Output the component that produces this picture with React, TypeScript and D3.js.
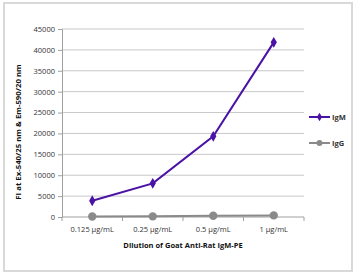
import React, { useEffect, useRef } from "react";
import * as d3 from "d3";

// dilution categories on the x axis
const dilutions = ["0.125 µg/mL", "0.25 µg/mL", "0.5 µg/mL", "1 µg/mL"];
// fluorescence intensity
const igmValues = [3900, 8050, 19300, 41800];
const iggValues = [120, 150, 300, 380];
const yTicks = [0, 5000, 10000, 15000, 20000, 25000, 30000, 35000, 40000, 45000];

const W = 358;
const H = 275;

const App = () => {
  const ref = useRef<SVGSVGElement>(null);

  useEffect(() => {
    const svg = d3.select(ref.current);
    svg.selectAll("*").remove();

    const font = "'Open Sans', 'Noto Sans', sans-serif";
    const left = 62, right = 304, top = 29, bottom = 217;

    // outer frame
    svg.append("rect")
      .attr("x", 4).attr("y", 3)
      .attr("width", 348).attr("height", 268)
      .attr("fill", "white")
      .attr("stroke", "#d9d9d9")
      .attr("stroke-width", 2);

    const x = d3.scaleBand().domain(dilutions).range([left, right]);
    const y = d3.scaleLinear().domain([0, 45000]).range([bottom, top]);

    // gridlines
    svg.append("g")
      .selectAll("line")
      .data(yTicks.filter((d) => d > 0))
      .join("line")
      .attr("x1", left).attr("x2", right)
      .attr("y1", (d) => y(d)).attr("y2", (d) => y(d))
      .attr("stroke", "#c8c8c8")
      .attr("stroke-width", 1);

    // y axis
    const yAxis = svg.append("g")
      .attr("transform", `translate(${left},0)`)
      .call(
        d3.axisLeft(y)
          .tickValues(yTicks)
          .tickFormat(d3.format("d"))
          .tickSize(4)
          .tickPadding(3)
      );
    yAxis.select(".domain").attr("stroke", "#a0a0a0");
    yAxis.selectAll(".tick line").attr("stroke", "#a0a0a0");
    yAxis.selectAll("text")
      .attr("font-family", font)
      .attr("font-size", 7.5)
      .attr("fill", "#333");

    // x axis: ticks sit between categories
    const xAxis = svg.append("g").attr("transform", `translate(0,${bottom})`);
    xAxis.append("line")
      .attr("x1", left).attr("x2", right)
      .attr("stroke", "#a0a0a0");
    const edges = dilutions.map((d) => x(d)!).concat([right]);
    xAxis.selectAll(".tk")
      .data(edges)
      .join("line")
      .attr("x1", (d) => d).attr("x2", (d) => d)
      .attr("y1", 0).attr("y2", 4)
      .attr("stroke", "#a0a0a0");
    xAxis.selectAll("text")
      .data(dilutions)
      .join("text")
      .attr("x", (d) => x(d)! + x.bandwidth() / 2)
      .attr("y", 15)
      .attr("text-anchor", "middle")
      .attr("font-family", font)
      .attr("font-size", 7.5)
      .attr("fill", "#333")
      .text((d) => d);

    // axis titles
    svg.append("text")
      .attr("x", 183).attr("y", 248)
      .attr("text-anchor", "middle")
      .attr("font-family", font)
      .attr("font-weight", "bold")
      .attr("font-size", 7.5)
      .attr("fill", "#111")
      .text("Dilution of Goat Anti-Rat IgM-PE");

    svg.append("text")
      .attr("transform", "translate(21,132) rotate(-90)")
      .attr("text-anchor", "middle")
      .attr("font-family", font)
      .attr("font-weight", "bold")
      .attr("font-size", 7.8)
      .attr("fill", "#111")
      .text("FI at Ex-540/25 nm & Em-590/20 nm");

    const cx = (i: number) => x(dilutions[i])! + x.bandwidth() / 2;
    const line = d3.line<number>().x((_, i) => cx(i)).y((d) => y(d));

    const series = [
      { name: "IgG", values: iggValues, color: "#8a8a8a", marker: d3.symbolCircle, size: 55 },
      { name: "IgM", values: igmValues, color: "#4a13a6", marker: d3.symbolDiamond, size: 34 },
    ];

    series.forEach((s) => {
      svg.append("path")
        .datum(s.values)
        .attr("d", line)
        .attr("fill", "none")
        .attr("stroke", s.color)
        .attr("stroke-width", 2);
      svg.append("g")
        .selectAll("path")
        .data(s.values)
        .join("path")
        .attr("d", d3.symbol().type(s.marker).size(s.size)())
        .attr("transform", (d, i) => `translate(${cx(i)},${y(d)})`)
        .attr("fill", s.color);
    });

    // legend
    const legend = [
      { name: "IgM", color: "#4a13a6", marker: d3.symbolDiamond, size: 22, y: 117 },
      { name: "IgG", color: "#8a8a8a", marker: d3.symbolCircle, size: 28, y: 143 },
    ];
    legend.forEach((l) => {
      svg.append("line")
        .attr("x1", 309).attr("x2", 330)
        .attr("y1", l.y).attr("y2", l.y)
        .attr("stroke", l.color)
        .attr("stroke-width", 2);
      svg.append("path")
        .attr("d", d3.symbol().type(l.marker).size(l.size)())
        .attr("transform", `translate(319.5,${l.y})`)
        .attr("fill", l.color);
      svg.append("text")
        .attr("x", 332).attr("y", l.y + 2.8)
        .attr("font-family", font)
        .attr("font-weight", "bold")
        .attr("font-size", 7.5)
        .attr("fill", "#333")
        .text(l.name);
    });
  }, []);

  return (
    <svg
      ref={ref}
      width={W}
      height={H}
      style={{ position: "absolute", left: 0, top: 0 }}
    />
  );
};

export default App;
